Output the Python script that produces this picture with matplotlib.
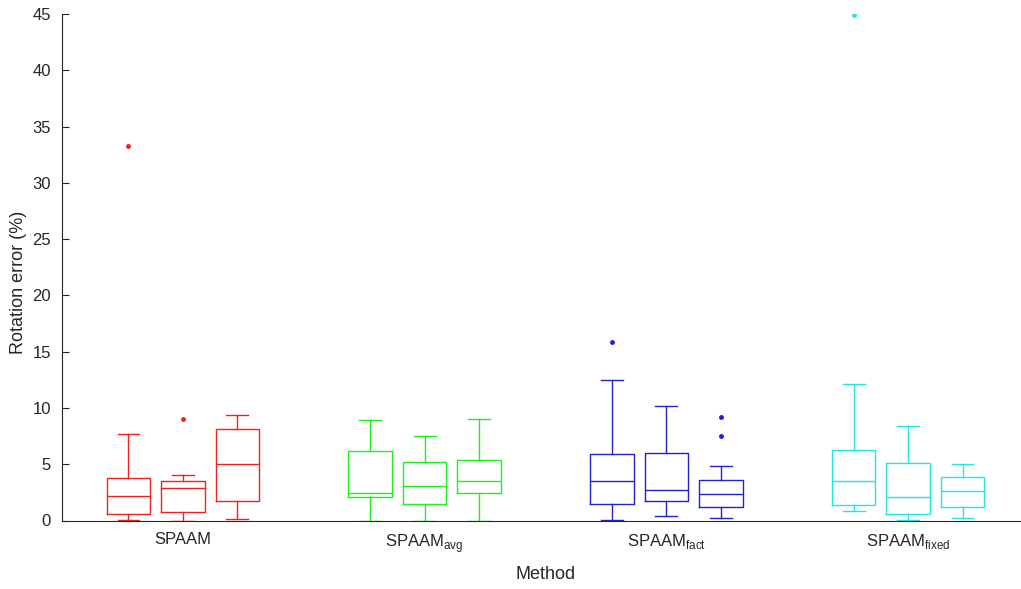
import matplotlib
matplotlib.use("Agg")
import matplotlib.pyplot as plt

plt.rcParams['font.family'] = ['Liberation Sans', 'DejaVu Sans']
plt.rcParams['mathtext.fontset'] = 'custom'
plt.rcParams['mathtext.rm'] = 'Liberation Sans'

# Methods and their colours
methods = ['SPAAM', 'SPAAM$_\\mathregular{avg}$', 'SPAAM$_\\mathregular{fact}$', 'SPAAM$_\\mathregular{fixed}$']
colors = ['#ee2222', '#22ee22', '#2222cc', '#22e6e6']

# Box statistics per method (three sessions each): low whisker, Q1, median, Q3, high whisker
whislo = [[0.05, 0.0, 0.1], [0.0, 0.0, 0.0], [0.05, 0.38, 0.2], [0.8, 0.05, 0.25]]
q1 = [[0.55, 0.75, 1.75], [2.1, 1.5, 2.4], [1.45, 1.72, 1.16], [1.4, 0.6, 1.23]]
med = [[2.15, 2.85, 5.0], [2.45, 3.1, 3.5], [3.5, 2.7, 2.34], [3.55, 2.1, 2.6]]
q3 = [[3.8, 3.5, 8.15], [6.2, 5.18, 5.36], [5.9, 6.0, 3.6], [6.3, 5.15, 3.85]]
whishi = [[7.7, 4.05, 9.35], [8.95, 7.55, 9.0], [12.45, 10.2, 4.8], [12.1, 8.4, 5.05]]
fliers = [[[33.3], [9.05], []], [[], [], []], [[15.9], [], [9.2, 7.55]], [[44.9], [], []]]

offsets = [-0.225, 0.0, 0.225]
box_w = 0.18

fig = plt.figure(figsize=(10.21, 5.89), dpi=100)
ax = fig.add_axes([62 / 1021, 1 - 520.5 / 589, (1029 - 62) / 1021, (520.5 - 14) / 589])

for g in range(4):
    stats = []
    pos = []
    for k in range(3):
        stats.append(dict(whislo=whislo[g][k], q1=q1[g][k], med=med[g][k], q3=q3[g][k],
                          whishi=whishi[g][k], fliers=fliers[g][k]))
        pos.append(g + 1 + offsets[k])
    c = colors[g]
    ax.bxp(stats, positions=pos, widths=box_w, capwidths=box_w / 2,
           boxprops=dict(color=c, linewidth=1.0),
           medianprops=dict(color=c, linewidth=1.0),
           whiskerprops=dict(color=c, linewidth=1.0, linestyle='-'),
           capprops=dict(color=c, linewidth=1.0),
           flierprops=dict(marker='.', markerfacecolor=c, markeredgecolor=c, markersize=5),
           manage_ticks=False)

ax.set_xlim(0.5, 4.5)
ax.set_ylim(0, 45)
ax.set_yticks(range(0, 46, 5))
ax.set_xticks([1, 2, 3, 4])
ax.set_xticklabels(methods)

for side in ['top', 'right']:
    ax.spines[side].set_visible(False)
for side in ['left', 'bottom']:
    ax.spines[side].set_color('#262626')
    ax.spines[side].set_linewidth(0.8)

ax.tick_params(direction='in', length=5, width=0.8, colors='#262626', labelsize=12, pad=8)
ax.tick_params(axis='x', length=0)
ax.set_xlabel('Method', fontsize=13, color='#262626', labelpad=8)
ax.set_ylabel('Rotation error (%)', fontsize=13, color='#262626', labelpad=1)
ax.yaxis.set_label_coords(-0.036, 0.47)

fig.savefig('out.png', dpi=100)
